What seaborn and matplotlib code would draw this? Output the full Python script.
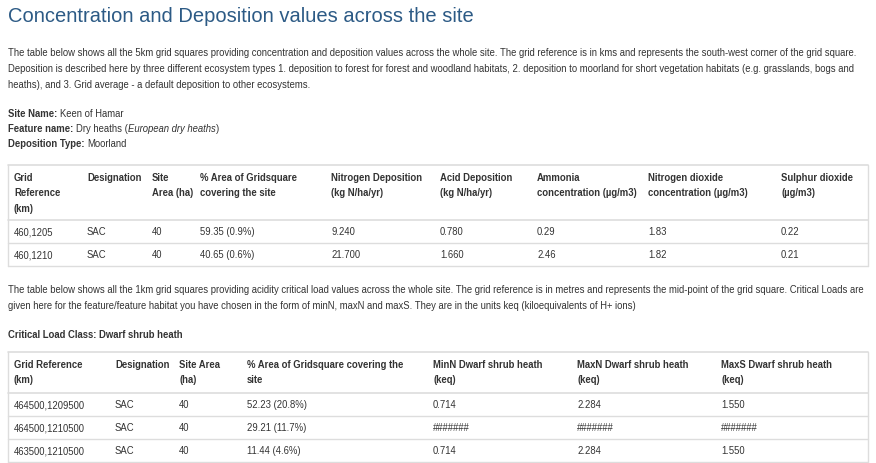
import matplotlib
matplotlib.use("Agg")
import matplotlib.pyplot as plt
import seaborn as sns

sns.set_style("white")
plt.rcParams['font.family'] = 'Liberation Sans'

# --- data ---
title = "Concentration and Deposition values across the site"
intro_lines = [
    "The table below shows all the 5km grid squares providing concentration and deposition values across the whole site. The grid reference is in kms and represents the south-west corner of the grid square.",
    "Deposition is described here by three different ecosystem types 1. deposition to forest for forest and woodland habitats, 2. deposition to moorland for short vegetation habitats (e.g. grasslands, bogs and",
    "heaths), and 3. Grid average - a default deposition to other ecosystems.",
]
site_name = "Keen of Hamar"
feature_name = "Dry heaths"
feature_latin = "European dry heaths"
deposition_type = "Moorland"

t1_headers = [
    ["Grid", "Reference", "(km)"], ["Designation"], ["Site", "Area (ha)"],
    ["% Area of Gridsquare", "covering the site"], ["Nitrogen Deposition", "(kg N/ha/yr)"],
    ["Acid Deposition", "(kg N/ha/yr)"], ["Ammonia", "concentration (\u00b5g/m3)"],
    ["Nitrogen dioxide", "concentration (\u00b5g/m3)"], ["Sulphur dioxide", "(\u00b5g/m3)"],
]
t1_grid = ["460,1205", "460,1210"]
t1_desig = ["SAC", "SAC"]
t1_area = ["40", "40"]
t1_pct = ["59.35 (0.9%)", "40.65 (0.6%)"]
t1_ndep = ["9.240", "21.700"]
t1_acid = ["0.780", "1.660"]
t1_nh3 = ["0.29", "2.46"]
t1_no2 = ["1.83", "1.82"]
t1_so2 = ["0.22", "0.21"]

mid_lines = [
    "The table below shows all the 1km grid squares providing acidity critical load values across the whole site. The grid reference is in metres and represents the mid-point of the grid square. Critical Loads are",
    "given here for the feature/feature habitat you have chosen in the form of minN, maxN and maxS. They are in the units keq (kiloequivalents of H+ ions)",
]
cl_class = "Critical Load Class: Dwarf shrub heath"

t2_headers = [
    ["Grid Reference", "(km)"], ["Designation"], ["Site Area", "(ha)"],
    ["% Area of Gridsquare covering the", "site"], ["MinN Dwarf shrub heath", "(keq)"],
    ["MaxN Dwarf shrub heath", "(keq)"], ["MaxS Dwarf shrub heath", "(keq)"],
]
t2_grid = ["464500,1209500", "464500,1210500", "463500,1210500"]
t2_desig = ["SAC", "SAC", "SAC"]
t2_area = ["40", "40", "40"]
t2_pct = ["52.23 (20.8%)", "29.21 (11.7%)", "11.44 (4.6%)"]
t2_minn = ["0.714", "#######", "0.714"]
t2_maxn = ["2.284", "#######", "2.284"]
t2_maxs = ["1.550", "#######", "1.550"]

# --- layout ---
W, H = 876, 464
fig = plt.figure(figsize=(W / 100, H / 100), dpi=100)
ax = fig.add_axes([0, 0, 1, 1])
ax.set_xlim(0, W)
ax.set_ylim(H, 0)
ax.axis('off')

TXT = '#333333'
LINE = '#dddddd'
FS = 6.85


def txt(x, y, s, **kw):
    kw.setdefault('fontsize', FS)
    kw.setdefault('color', TXT)
    return ax.text(x, y, s, va='center', ha='left', **kw)


def runs(x, y, parts):
    # draw consecutive text pieces, measuring each one
    r = fig.canvas.get_renderer()
    inv = ax.transData.inverted()
    for s, kw in parts:
        t = txt(x, y, s, **kw)
        bb = t.get_window_extent(renderer=r)
        x = inv.transform((bb.x1, bb.y0))[0]


ax.text(8, 16, title, fontsize=14.5, color='#2c5a85', va='center', ha='left')
for i, line in enumerate(intro_lines):
    txt(8, 53 + 16 * i, line)

runs(8, 114, [("Site Name: ", dict(weight='bold')), (site_name, {})])
runs(8, 129, [("Feature name: ", dict(weight='bold')), (feature_name + " (", {}),
              (feature_latin, dict(style='italic')), (")", {})])
runs(8, 144, [("Deposition Type: ", dict(weight='bold')), (deposition_type, {})])


def table(top, head_h, row_h, xs, headers, cols, right=868):
    ax.plot([8, right], [top, top], color=LINE, lw=1.2)
    for x, hdr in zip(xs, headers):
        for j, h in enumerate(hdr):
            txt(x, top + 12 + 15.5 * j, h, weight='bold')
    y = top + head_h
    ax.plot([8, right], [y, y], color=LINE, lw=1.2)
    for r in range(len(cols[0])):
        for x, col in zip(xs, cols):
            txt(x, y + row_h / 2, col[r])
        y += row_h
        ax.plot([8, right], [y, y], color=LINE, lw=1)
    ax.plot([8, 8], [top, y], color=LINE, lw=1)
    ax.plot([right, right], [top, y], color=LINE, lw=1)


table(166, 55, 23, [14, 87, 152, 200, 331, 440, 537, 648, 781], t1_headers,
      [t1_grid, t1_desig, t1_area, t1_pct, t1_ndep, t1_acid, t1_nh3, t1_no2, t1_so2])

for i, line in enumerate(mid_lines):
    txt(8, 290 + 16 * i, line)
txt(8, 335, cl_class, weight='bold')

table(353, 41, 23, [14, 115, 179, 247, 433, 577, 721], t2_headers,
      [t2_grid, t2_desig, t2_area, t2_pct, t2_minn, t2_maxn, t2_maxs])

fig.savefig("out.png", dpi=100)
